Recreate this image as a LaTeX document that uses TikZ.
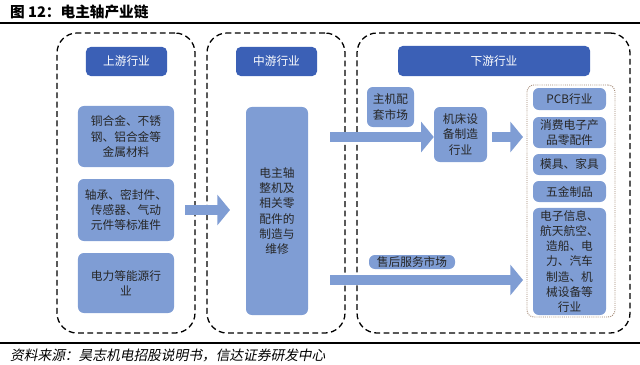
\documentclass[tikz,border=0pt]{standalone}
\usepackage{fontspec}
\setmainfont{Noto Sans CJK SC}
\newfontfamily\srcfont[FakeSlant=0.2]{Noto Sans CJK SC}
\usetikzlibrary{arrows.meta,positioning}
\definecolor{hdrblue}{HTML}{3B60B6}
\definecolor{boxblue}{HTML}{7F9DD4}
\definecolor{dotbrown}{HTML}{A08470}
\tikzset{
  grp/.style={draw,line width=1.1pt,dash pattern=on 5pt off 3pt,rounded corners=0.6cm,inner sep=0pt},
  hdr/.style={fill=hdrblue,text=white,rounded corners=4pt,inner sep=0pt,font=\fontsize{10}{12}\selectfont},
  item/.style={fill=boxblue,text=black!85,rounded corners=5pt,align=center,inner sep=0pt,font=\fontsize{10}{13}\selectfont},
  flow/.style={draw=boxblue,line width=0.3cm,-{Triangle[length=0.38cm,width=0.9cm]}},
}
\begin{document}
\begin{tikzpicture}[x=0.03cm,y=-0.03cm]
\useasboundingbox (0,0) rectangle (640,365);
% title and rules
\node[anchor=west,font=\fontsize{12.5}{14}\selectfont\bfseries] (title) at (6,12) {图 12：电主轴产业链};
\draw[line width=2pt] (0,23) -- (640,23);
\draw[line width=2pt] (0,343) -- (640,343);
\node[anchor=west,font=\srcfont\fontsize{11.7}{13}\selectfont] (src) at (6,355) {资料来源：昊志机电招股说明书，信达证券研发中心};
% groups
\node[grp,minimum width=4.14cm,minimum height=9cm] (up) at (126,183) {};
\node[grp,minimum width=4.14cm,minimum height=9cm] (mid) at (276,183) {};
\node[grp,minimum width=8.19cm,minimum height=9cm] (down) at (493.5,183) {};
% upstream
\node[hdr,minimum width=2.43cm,minimum height=0.87cm] (uph) at (126.5,61.5) {上游行业};
\node[item,minimum width=2.88cm,minimum height=1.83cm] (metal) at (126,136.5) {铜合金、不锈\\钢、铝合金等\\金属材料};
\node[item,minimum width=2.88cm,minimum height=1.86cm] (parts) at (126,210) {轴承、密封件、\\传感器、气动\\元件等标准件};
\node[item,minimum width=2.88cm,minimum height=1.8cm] (power) at (126,283) {电力等能源行\\业};
% midstream
\node[hdr,minimum width=2.43cm,minimum height=0.87cm] (midh) at (276.5,61.5) {中游行业};
\node[item,minimum width=1.86cm,minimum height=6.24cm] (spindle) at (277,211) {电主轴\\整机及\\相关零\\配件的\\制造与\\维修};
% downstream
\node[hdr,minimum width=5.76cm,minimum height=0.9cm] (downh) at (494,61) {下游行业};
\node[item,minimum width=1.41cm,minimum height=1.2cm] (oem) at (390.5,107) {主机配\\套市场};
\node[item,minimum width=1.59cm,minimum height=1.65cm] (mach) at (460.5,134.5) {机床设\\备制造\\行业};
\node[item,minimum width=2.58cm,minimum height=0.42cm] (after) at (412,262) {售后服务市场};
\node[draw=dotbrown,densely dotted,line width=0.8pt,rounded corners=6pt,minimum width=2.64cm,minimum height=6.96cm] (users) at (571,201) {};
\node[item,minimum width=2.19cm,minimum height=0.66cm] (pcb) at (569.5,99) {PCB行业};
\node[item,minimum width=2.19cm,minimum height=0.93cm] (consumer) at (569.5,132.5) {消费电子产\\品零配件};
\node[item,minimum width=2.19cm,minimum height=0.63cm] (mould) at (569.5,164.5) {模具、家具};
\node[item,minimum width=2.19cm,minimum height=0.63cm] (hardware) at (569.5,191.5) {五金制品};
\node[item,minimum width=2.19cm,minimum height=3.21cm] (others) at (569.5,261.5) {电子信息、\\航天航空、\\造船、电\\力、汽车\\制造、机\\械设备等\\行业};
% arrows
\coordinate (upout) at (185,210);
\coordinate (midin) at (230,210);
\coordinate (midout1) at (330,137);
\coordinate (machout) at (492,137);
\coordinate (usersin1) at (523,137);
\coordinate (midout2) at (330,280);
\coordinate (usersin2) at (523,280);
\draw[flow] (upout) -- (midin);
\draw[flow] (midout1) -- (midout1 -| mach.west);
\draw[flow] (machout) -- (usersin1);
\draw[flow] (midout2) -- (usersin2);
\end{tikzpicture}
\end{document}
